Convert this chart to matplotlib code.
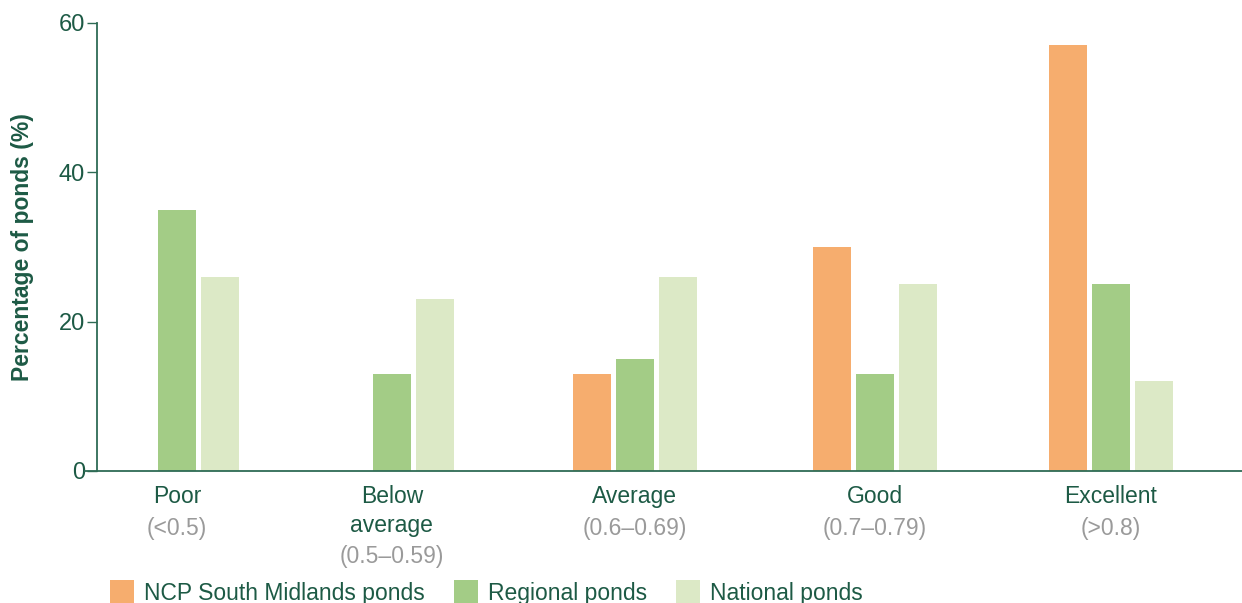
import matplotlib
matplotlib.use("Agg")
import matplotlib.pyplot as plt
import numpy as np
from matplotlib.patches import Patch

plt.rcParams['font.family'] = ['Liberation Sans', 'DejaVu Sans']

categories = ["Poor", "Below\naverage", "Average", "Good", "Excellent"]
ranges = ["(<0.5)", "(0.5\u20130.59)", "(0.6\u20130.69)", "(0.7\u20130.79)", "(>0.8)"]
series_names = ["NCP South Midlands ponds", "Regional ponds", "National ponds"]
ncp = [0, 0, 13, 30, 57]
regional = [35, 13, 15, 13, 25]
national = [26, 23, 26, 25, 12]
yticks = [0, 20, 40, 60]

# layout: group centres (slightly uneven, as in the original)
group_pos = np.array([0, 0.92, 1.96, 2.99, 4.0])

colors = ["#f6ad6e", "#a3cc86", "#dce9c6"]
dark = "#1d5a45"
grey = "#9a9a9a"

fig = plt.figure(figsize=(12.42, 6.03), dpi=100)
ax = fig.add_axes([0.078, 0.219, 0.922, 0.743])

w = 0.163
off = 0.184
for vals, dx, c in zip([ncp, regional, national], [-off, 0, off], colors):
    ax.bar(group_pos + dx, vals, width=w, color=c, linewidth=0)

ax.set_xlim(-0.343, 4.561)
ax.set_ylim(0, 60)
ax.set_yticks(yticks)
ax.set_yticklabels([str(t) for t in yticks], fontsize=17, color=dark)
ax.tick_params(axis='y', direction='out', length=7, width=1, color="#2e6b55", pad=1.5)
ax.set_xticks([])
for s in ['top', 'right']:
    ax.spines[s].set_visible(False)
for s in ['left', 'bottom']:
    ax.spines[s].set_color("#2e6b55")
    ax.spines[s].set_linewidth(1.3)
ax.spines['bottom'].set_bounds(-0.343 - 0.05, 4.561)
ax.spines['bottom'].set_clip_on(False)

ax.set_ylabel("Percentage of ponds (%)", fontsize=16.5, fontweight='bold', color=dark)
ax.yaxis.set_label_coords(-0.055, 0.5)

trans = ax.get_xaxis_transform()
for i, (cat, rng) in enumerate(zip(categories, ranges)):
    lines = cat.split("\n")
    y0 = -0.058
    for j, ln in enumerate(lines):
        ax.text(group_pos[i], y0 - j * 0.063, ln, transform=trans, ha='center', va='center',
                fontsize=16.5, color=dark)
    ax.text(group_pos[i], y0 - len(lines) * 0.063 - 0.008, rng, transform=trans, ha='center',
            va='center', fontsize=16.5, color=grey)

handles = [Patch(facecolor=c, edgecolor='none') for c in colors]
fig.legend(handles, series_names, loc='center left', bbox_to_anchor=(0.0885, 0.017), ncol=3,
           frameon=False, fontsize=16.5, handlelength=1.05, handleheight=1.3, handletextpad=0.45,
           columnspacing=1.25, labelcolor=dark, borderpad=0, borderaxespad=0)

fig.savefig("out.png", dpi=100)
